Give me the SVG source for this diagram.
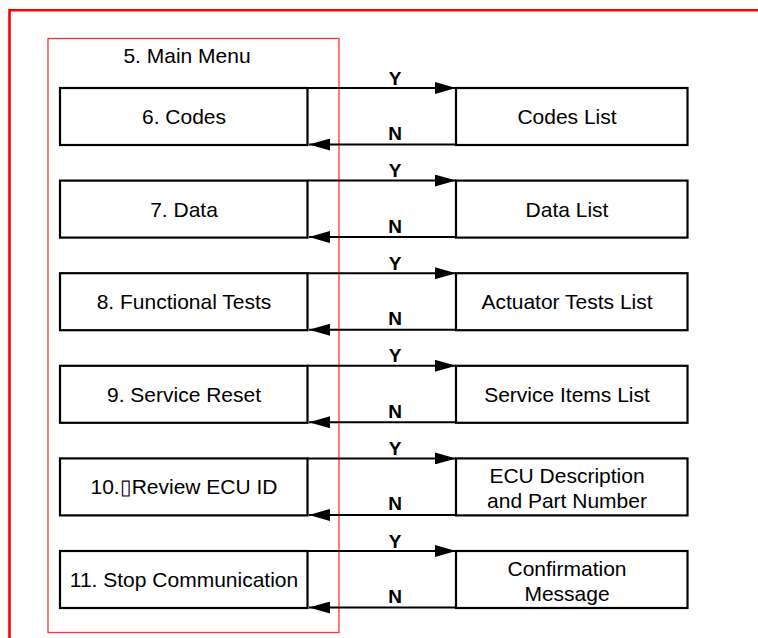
<svg xmlns="http://www.w3.org/2000/svg" width="758" height="638" viewBox="0 0 758 638">
<defs>
<marker id="ah" markerUnits="userSpaceOnUse" markerWidth="21" markerHeight="12" refX="21" refY="6" orient="auto">
<path d="M0,0 L21,6 L0,12 Z" fill="#000"/>
</marker>
<style>
.box{fill:#fff;stroke:#000;stroke-width:2.2}
.t{font-family:"Liberation Sans",Arial,sans-serif;font-size:21px;fill:#000;text-anchor:middle}
.yn{font-family:"Liberation Sans",Arial,sans-serif;font-size:19px;font-weight:bold;fill:#000;text-anchor:middle}
.ln{stroke:#000;stroke-width:2;fill:none;marker-end:url(#ah)}
</style>
</defs>
<rect width="758" height="638" fill="#fff"/>
<path id="frame" d="M9.5,638 V10.3 H758" fill="none" stroke="#ff0000" stroke-width="2.6"/>
<g id="main-menu">
<rect x="48" y="38.5" width="291" height="594" fill="none" stroke="#ff3333" stroke-width="1.3"/>
<text class="t" x="187" y="63">5. Main Menu</text>
</g>
<g id="codes"><rect class="box" x="60" y="88" width="247.5" height="57"/><text class="t" x="184" y="124">6. Codes</text></g>
<g id="data"><rect class="box" x="60" y="180.6" width="247.5" height="57"/><text class="t" x="184" y="216.6">7. Data</text></g>
<g id="functional"><rect class="box" x="60" y="273.2" width="247.5" height="57"/><text class="t" x="184" y="309.2">8. Functional Tests</text></g>
<g id="service"><rect class="box" x="60" y="365.8" width="247.5" height="57"/><text class="t" x="184" y="401.8">9. Service Reset</text></g>
<g id="ecu"><rect class="box" x="60" y="458.4" width="247.5" height="57"/><text class="t" x="184" y="494.4">10.▯Review ECU ID</text></g>
<g id="stop"><rect class="box" x="60" y="551" width="247.5" height="57"/><text class="t" x="184" y="587">11. Stop Communication</text></g>
<g id="codes-list"><rect class="box" x="456" y="88" width="231.5" height="57"/><text class="t" x="567" y="124">Codes List</text></g>
<g id="data-list"><rect class="box" x="456" y="180.6" width="231.5" height="57"/><text class="t" x="567" y="216.6">Data List</text></g>
<g id="actuator-list"><rect class="box" x="456" y="273.2" width="231.5" height="57"/><text class="t" x="567" y="309.2">Actuator Tests List</text></g>
<g id="service-list"><rect class="box" x="456" y="365.8" width="231.5" height="57"/><text class="t" x="567" y="401.8">Service Items List</text></g>
<g id="ecu-desc"><rect class="box" x="456" y="458.4" width="231.5" height="57"/><text class="t" x="567" y="483.4">ECU Description</text><text class="t" x="567" y="508.4">and Part Number</text></g>
<g id="confirm"><rect class="box" x="456" y="551" width="231.5" height="57"/><text class="t" x="567" y="576">Confirmation</text><text class="t" x="567" y="601">Message</text></g>
<g id="connectors">
<line class="ln" x1="307.5" y1="88" x2="456" y2="88"/>
<line class="ln" x1="456" y1="144.5" x2="309" y2="144.5"/>
<line class="ln" x1="307.5" y1="180.6" x2="456" y2="180.6"/>
<line class="ln" x1="456" y1="237.1" x2="309" y2="237.1"/>
<line class="ln" x1="307.5" y1="273.2" x2="456" y2="273.2"/>
<line class="ln" x1="456" y1="329.7" x2="309" y2="329.7"/>
<line class="ln" x1="307.5" y1="365.8" x2="456" y2="365.8"/>
<line class="ln" x1="456" y1="422.3" x2="309" y2="422.3"/>
<line class="ln" x1="307.5" y1="458.4" x2="456" y2="458.4"/>
<line class="ln" x1="456" y1="514.9" x2="309" y2="514.9"/>
<line class="ln" x1="307.5" y1="551" x2="456" y2="551"/>
<line class="ln" x1="456" y1="607.5" x2="309" y2="607.5"/>
<text class="yn" x="395" y="84.5">Y</text><text class="yn" x="395" y="140">N</text>
<text class="yn" x="395" y="177.1">Y</text><text class="yn" x="395" y="232.6">N</text>
<text class="yn" x="395" y="269.7">Y</text><text class="yn" x="395" y="325.2">N</text>
<text class="yn" x="395" y="362.3">Y</text><text class="yn" x="395" y="417.8">N</text>
<text class="yn" x="395" y="454.9">Y</text><text class="yn" x="395" y="510.4">N</text>
<text class="yn" x="395" y="547.5">Y</text><text class="yn" x="395" y="603">N</text>
</g>
</svg>
